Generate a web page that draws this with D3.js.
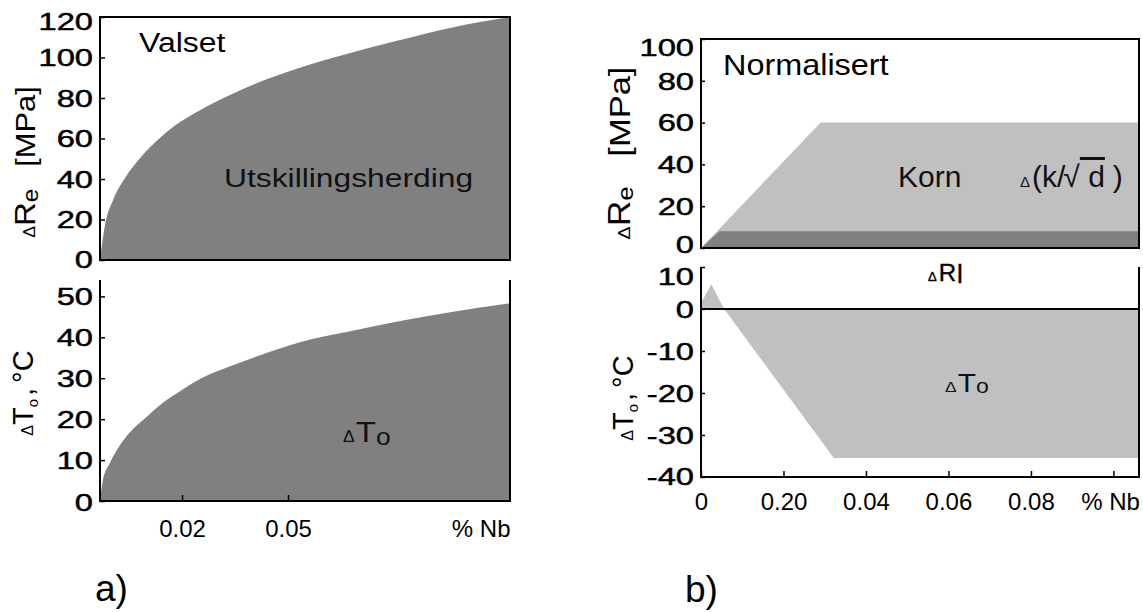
<!DOCTYPE html>
<html><head><meta charset="utf-8">
<script src="https://cdn.jsdelivr.net/npm/d3@7"></script>
<style>
html,body{margin:0;padding:0;background:#fff;}
svg{display:block;}
text{font-family:"Liberation Sans",Arial,sans-serif;}
</style></head><body>
<svg id="chart" width="1143" height="612"></svg>
<script>
// a) Rolled steel ("Valset"): strength and transition-temperature increase vs % Nb
const valsetReNb = [0, 0.0012, 0.0032, 0.0061, 0.0098, 0.0146, 0.0195, 0.0251, 0.0336, 0.0421, 0.0532, 0.0668, 0.0803, 0.0938, 0.11];
const valsetRe   = [0, 17, 29.6, 40.5, 50.4, 60.2, 68.1, 74, 81.5, 88, 95, 102.2, 108.6, 114.6, 120];
const valsetToNb = [0, 0.0007, 0.0024, 0.0049, 0.0073, 0.011, 0.0146, 0.0195, 0.0251, 0.0336, 0.0421, 0.0532, 0.0668, 0.0803, 0.0938, 0.11];
const valsetTo   = [0, 5.1, 9.3, 13.7, 16.8, 20.2, 23.4, 26.8, 29.8, 32.9, 35.6, 38.8, 41.5, 44, 46.1, 48.3];

// b) Normalised ("Normalisert"): grain refinement and precipitation contributions
const kornNb   = [0, 0.029, 0.1062];
const kornRe   = [0, 60, 60];
const dispNb   = [0, 0.0045, 0.1062];
const dispRe   = [0, 8, 8];
const normToNb = [0, 0.0025, 0.0056, 0.0322, 0.1062];
const normTo   = [1.4, 5.9, 0, -35.5, -35.5];

// Axis ticks and labels
const reTicksA  = [0, 20, 40, 60, 80, 100, 120];
const toTicksA  = [0, 10, 20, 30, 40, 50];
const nbTicksA  = [0.02, 0.05, 0.11];
const nbLabelsA = ["0.02", "0.05", "% Nb"];
const reTicksB  = [0, 20, 40, 60, 80, 100];
const toTicksB  = [-40, -30, -20, -10, 0, 10];
const nbTicksB  = [0, 0.02, 0.04, 0.06, 0.08, 0.1];
const nbLabelsB = ["0", "0.20", "0.04", "0.06", "0.08", "% Nb"];

const DARK = "#808080", LIGHT = "#c0c0c0";
const svg = d3.select("#chart");

// Scales
const xA = d3.scaleLinear().domain([0, 0.02, 0.05, 0.11]).range([100, 182, 288, 510]);
const yReA = d3.scaleLinear().domain([0, 120]).range([260, 17]);
const yToA = d3.scaleLinear().domain([0, 54]).range([501, 280]);
const xB = d3.scaleLinear().domain([0, 0.1062]).range([701, 1139]);
const yReB = d3.scaleLinear().domain([0, 100]).range([248, 39]);
const yToB = d3.scaleLinear().domain([-40, 10]).range([477, 267]);

// Text helper: horizontally stretched text built from tspans
function richText(parent, x, y, parts, o = {}) {
  const g = parent.append("g")
    .attr("transform", `translate(${x},${y})` + (o.rotate ? ` rotate(${o.rotate})` : ""));
  const t = g.append("text")
    .attr("font-size", o.size || 24)
    .attr("text-anchor", o.anchor || "start")
    .attr("transform", `scale(${o.sx || 1},1)`)
    .attr("fill", o.fill || "#000");
  if (o.stroke) t.attr("stroke", o.fill || "#000").attr("stroke-width", o.stroke);
  parts.forEach(p => {
    const s = typeof p === "string" ? { t: p } : p;
    const ts = t.append("tspan").text(s.t);
    if (s.size) ts.attr("font-size", s.size);
    if (s.dy) ts.attr("dy", s.dy);
    if (s.dx) ts.attr("dx", s.dx);
    if (s.deco) ts.attr("text-decoration", s.deco);
  });
  return t;
}

function areaPath(nb, vals, x, y, base, curve) {
  const pts = nb.map((d, i) => [d, vals[i]]);
  return d3.area().curve(curve || d3.curveLinear)
    .x(d => x(d[0])).y0(y(base)).y1(d => y(d[1]))(pts);
}

function styleYAxis(sel, tx, shift) {
  sel.select(".domain").remove();
  sel.selectAll(".tick line").attr("stroke", "#000").attr("stroke-width", 1.5);
  sel.selectAll(".tick text").attr("x", null).attr("dy", "0.36em")
    .attr("font-size", 23).attr("fill", "#000").attr("stroke", "#000").attr("stroke-width", 0.45)
    .attr("text-anchor", "end")
    .attr("transform", d => `translate(${tx},${(shift && shift[d]) || 0}) scale(1.42,1)`);
}
function styleXAxis(sel, labels, y0) {
  sel.select(".domain").remove();
  sel.selectAll(".tick line").attr("stroke", "#000").attr("stroke-width", 1.5);
  sel.selectAll(".tick text").attr("y", null).attr("dy", null)
    .attr("font-size", 24).attr("fill", "#000")
    .attr("transform", `translate(0,${y0})`)
    .text((d, i) => labels[i]);
}

// ---------- Panel a ----------
const gA = svg.append("g");
gA.append("path").attr("d", areaPath(valsetReNb, valsetRe, xA, yReA, 0, d3.curveMonotoneX)).attr("fill", DARK);
gA.append("path").attr("d", areaPath(valsetToNb, valsetTo, xA, yToA, 0, d3.curveMonotoneX)).attr("fill", DARK);

gA.append("rect").attr("x", xA(0)).attr("y", yReA(120)).attr("width", xA(0.11) - xA(0)).attr("height", yReA(0) - yReA(120))
  .attr("fill", "none").attr("stroke", "#000").attr("stroke-width", 2);
gA.append("path").attr("d", `M${xA(0)},${yToA(54)}V${yToA(0)}H${xA(0.11)}V${yToA(54)}`)
  .attr("fill", "none").attr("stroke", "#000").attr("stroke-width", 2);

gA.append("g").attr("transform", `translate(${xA(0)},0)`)
  .call(d3.axisLeft(yReA).tickValues(reTicksA).tickSize(-5).tickSizeOuter(0))
  .call(s => styleYAxis(s, -7, { 120: 4, 0: -1 }));
gA.append("g").attr("transform", `translate(${xA(0)},0)`)
  .call(d3.axisLeft(yToA).tickValues(toTicksA).tickSize(-5).tickSizeOuter(0))
  .call(s => styleYAxis(s, -7, { 0: 1 }));

const axA = gA.append("g").attr("transform", `translate(0,${yToA(0)})`)
  .call(d3.axisBottom(xA).tickValues(nbTicksA).tickSize(-6).tickSizeOuter(0))
  .call(s => styleXAxis(s, nbLabelsA, 36));
axA.selectAll(".tick").filter((d, i) => i === nbTicksA.length - 1).select("line").remove();
axA.selectAll(".tick text").filter((d, i) => i === nbTicksA.length - 1).attr("text-anchor", "end");

richText(gA, 139, 52, ["Valset"], { size: 28, sx: 1.14 });
richText(gA, 224, 187, ["Utskillingsherding"], { size: 26.5, sx: 1.2, fill: "#111" });
richText(gA, 343, 442, [{ t: "Δ", size: 16 }, { t: "T", dx: 1 }, { t: "o", size: 24, dy: 3 }], { size: 30, sx: 1.1, fill: "#111" });

richText(gA, 35, 162, [{ t: "Δ", size: 16 }, { t: "R", size: 30 }, { t: "e", size: 22, dy: 3 }, { t: "[MPa]", dy: -3, dx: 20 }],
  { size: 28, sx: 1.1, anchor: "middle", rotate: -90 });
richText(gA, 33, 393, [{ t: "Δ", size: 16 }, "T", { t: "o", size: 15, dy: 5 }, { t: ",", dy: -5, dx: 3 }, { t: "°", dx: 5 }, "C"],
  { size: 29, anchor: "middle", rotate: -90 });

richText(gA, 95, 601, ["a)"], { size: 37 });

// ---------- Panel b ----------
const gB = svg.append("g");
gB.append("path").attr("d", areaPath(kornNb, kornRe, xB, yReB, 0)).attr("fill", LIGHT);
gB.append("path").attr("d", areaPath(dispNb, dispRe, xB, yReB, 0)).attr("fill", DARK);
gB.append("path").attr("d", areaPath(normToNb, normTo, xB, yToB, 0)).attr("fill", LIGHT);

gB.append("rect").attr("x", xB(0)).attr("y", yReB(100)).attr("width", xB(0.1062) - xB(0)).attr("height", yReB(0) - yReB(100))
  .attr("fill", "none").attr("stroke", "#000").attr("stroke-width", 2);
gB.append("path").attr("d", `M${xB(0)},${yToB(10)}V${yToB(-40)}H${xB(0.1062)}V${yToB(10)}`)
  .attr("fill", "none").attr("stroke", "#000").attr("stroke-width", 2);
gB.append("line").attr("x1", xB(0)).attr("x2", xB(0.1062)).attr("y1", yToB(0)).attr("y2", yToB(0))
  .attr("stroke", "#000").attr("stroke-width", 2);

gB.append("g").attr("transform", `translate(${xB(0)},0)`)
  .call(d3.axisLeft(yReB).tickValues(reTicksB).tickSize(-4).tickSizeOuter(0))
  .call(s => styleYAxis(s, -7, { 100: 8, 0: -4 }));
gB.append("g").attr("transform", `translate(${xB(0)},0)`)
  .call(d3.axisLeft(yToB).tickValues(toTicksB).tickSize(-4).tickSizeOuter(0).tickFormat(d => d < 0 ? "-" + (-d) : String(d)))
  .call(s => styleYAxis(s, -7, { 10: 9, "-40": -1 }));

const axB = gB.append("g").attr("transform", `translate(0,${yToB(-40)})`)
  .call(d3.axisBottom(xB).tickValues(nbTicksB).tickSize(-6).tickSizeOuter(0))
  .call(s => styleXAxis(s, nbLabelsB, 33));
axB.selectAll(".tick text").filter((d, i) => i === nbTicksB.length - 1).attr("text-anchor", "end").attr("transform", "translate(26,33)");

richText(gB, 723, 75, ["Normalisert"], { size: 30, sx: 1.08 });
richText(gB, 898, 187, ["Korn"], { size: 30, fill: "#111" });
richText(gB, 1020, 187, [{ t: "Δ", size: 15 }, { t: "(k/", dx: 2 }, { t: "√", dx: -2 }, { t: "   d", deco: "overline" }, { t: ")", dx: 8 }],
  { size: 30, fill: "#111" });
richText(gB, 928, 281, [{ t: "Δ", size: 13 }, { t: "R", dx: 2, size: 24 }, { t: "l", size: 26, dx: 1, dy: 2 }], { size: 23, stroke: 0.4 });
richText(gB, 945, 392, [{ t: "Δ", size: 15 }, { t: "T", dx: 1 }, { t: "o", size: 20, dy: 1 }], { size: 26, sx: 1.15, fill: "#111" });

richText(gB, 630, 153, [{ t: "Δ", size: 17 }, { t: "R", size: 31 }, { t: "e", size: 22, dy: 3 }, { t: "[MPa]", dy: -3, dx: 26 }],
  { size: 30, sx: 1.15, anchor: "middle", rotate: -90 });
richText(gB, 633, 398, [{ t: "Δ", size: 16 }, "T", { t: "o", size: 15, dy: 5 }, { t: ",", dy: -5, dx: 3 }, { t: "°", dx: 5 }, "C"],
  { size: 29, anchor: "middle", rotate: -90 });

richText(gB, 685, 602, ["b)"], { size: 37 });
</script>
</body></html>
